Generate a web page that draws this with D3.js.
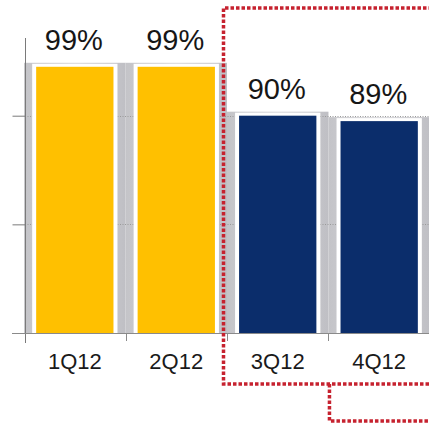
<!DOCTYPE html>
<html>
<head>
<meta charset="utf-8">
<script src="https://cdn.jsdelivr.net/npm/d3@7"></script>
<style>
  html, body { margin: 0; padding: 0; background: #fff; }
  svg { display: block; font-family: "Liberation Sans", Arial, sans-serif; }
</style>
</head>
<body>
<svg id="chart" width="429" height="427"></svg>
<script>
// Quarterly rates
const categories = ["1Q12", "2Q12", "3Q12", "4Q12"];
const values = [99, 99, 90, 89];
const valueLabels = ["99%", "99%", "90%", "89%"];
const barColors = ["#FFC000", "#FFC000", "#0B2D6B", "#0B2D6B"];
const gridValues = [70, 90];
const tickValues = [50, 70, 90];

const svg = d3.select("#chart");
const baseY = 333;

const x = d3.scaleBand()
  .domain(categories)
  .range([25, 429])
  .paddingInner(0.238)
  .paddingOuter(0.11);

const y = d3.scaleLinear()
  .domain([50, 104.3])
  .range([baseY, 38]);

const step = x.step();
const gapHalf = step * x.paddingInner() / 2;

// soft gray column behind each bar
const defs = svg.append("defs");
const grad = defs.append("linearGradient").attr("id", "shade")
  .attr("x1", "0").attr("x2", "1").attr("y1", "0").attr("y2", "0");
grad.append("stop").attr("offset", "0").attr("stop-color", "#c4c4c8");
grad.append("stop").attr("offset", "0.5").attr("stop-color", "#d6d6da");
grad.append("stop").attr("offset", "1").attr("stop-color", "#bfbfc4");

svg.append("g").selectAll("rect")
  .data(categories)
  .join("rect")
  .attr("x", d => x(d) - gapHalf)
  .attr("width", step)
  .attr("y", (d, i) => y(values[i]) - 4)
  .attr("height", (d, i) => baseY - y(values[i]) + 4)
  .attr("fill", "url(#shade)");

// dotted gridlines
svg.append("g").selectAll("line")
  .data(gridValues)
  .join("line")
  .attr("x1", 25).attr("x2", 429)
  .attr("y1", d => Math.round(y(d)) + 0.5)
  .attr("y2", d => Math.round(y(d)) + 0.5)
  .attr("stroke", "#9a9a9a")
  .attr("stroke-width", 1)
  .attr("stroke-dasharray", "1,1.5");

// white halo around bars
svg.append("g").selectAll("rect")
  .data(categories)
  .join("rect")
  .attr("x", d => x(d) - 4)
  .attr("width", x.bandwidth() + 8)
  .attr("y", (d, i) => y(values[i]) - 3)
  .attr("height", (d, i) => baseY - y(values[i]) + 3)
  .attr("fill", "#ffffff");

// bars
svg.append("g").selectAll("rect")
  .data(categories)
  .join("rect")
  .attr("x", d => x(d))
  .attr("width", x.bandwidth())
  .attr("y", (d, i) => y(values[i]))
  .attr("height", (d, i) => baseY - y(values[i]))
  .attr("fill", (d, i) => barColors[i]);

// value labels
svg.append("g").selectAll("text")
  .data(categories)
  .join("text")
  .attr("x", d => x(d) + x.bandwidth() / 2 - 1)
  .attr("y", (d, i) => y(values[i]) - 17)
  .attr("text-anchor", "middle")
  .attr("font-size", 29)
  .attr("fill", "#161616")
  .text((d, i) => valueLabels[i]);

// y axis (ticks only, no labels)
const yAxis = d3.axisLeft(y)
  .tickValues(tickValues)
  .tickSize(13)
  .tickFormat("");
const yg = svg.append("g")
  .attr("transform", "translate(25.5,0)")
  .call(yAxis);
yg.select(".domain").remove();
yg.selectAll(".tick line").attr("stroke", "#7a7a7a");
yg.append("line")
  .attr("x1", 0).attr("x2", 0)
  .attr("y1", y(104.3)).attr("y2", baseY + 10)
  .attr("stroke", "#7a7a7a");

// x axis baseline with boundary ticks
svg.append("line")
  .attr("x1", 12).attr("x2", 429)
  .attr("y1", baseY + 0.5).attr("y2", baseY + 0.5)
  .attr("stroke", "#8a8a8a");
svg.append("g").selectAll("line")
  .data(categories.slice(1))
  .join("line")
  .attr("x1", d => Math.round(x(d) - gapHalf) + 0.5)
  .attr("x2", d => Math.round(x(d) - gapHalf) + 0.5)
  .attr("y1", baseY).attr("y2", baseY + 8)
  .attr("stroke", "#8a8a8a");

// category labels
svg.append("g").selectAll("text")
  .data(categories)
  .join("text")
  .attr("x", d => x(d) + x.bandwidth() / 2)
  .attr("y", 369)
  .attr("text-anchor", "middle")
  .attr("font-size", 22)
  .attr("fill", "#1a1a1a")
  .text(d => d);

// red dotted highlight frame around the second half of the year
const frame = svg.append("g")
  .attr("fill", "none")
  .attr("stroke", "#C6222F")
  .attr("stroke-width", 3.5)
  .attr("stroke-dasharray", "3.5,2");
const frameLeft = x("3Q12") - gapHalf - 3.5;
const splitX = x("4Q12") - gapHalf + 1;
frame.append("path")
  .attr("d", `M432,8 H${frameLeft} V384 H432`);
frame.append("path")
  .attr("d", `M${splitX},384 V421 H432`);
</script>
</body>
</html>
